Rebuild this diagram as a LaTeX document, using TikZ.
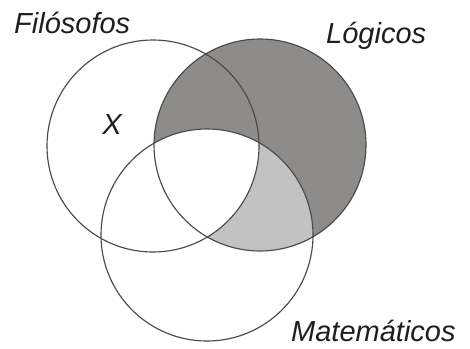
\documentclass[tikz,border=0pt]{standalone}
\usepackage{fontspec}
\setmainfont{Liberation Sans}
\definecolor{darkfill}{HTML}{8E8C8A}
\definecolor{lightfill}{HTML}{C2C2C2}
\definecolor{edge}{HTML}{4A4A4A}
\definecolor{ink}{HTML}{1E1E1E}
\tikzset{
  venn/.style={draw=edge, line width=1.15pt},
  lbl/.style={font=\fontsize{29}{31}\selectfont\itshape, text=ink, inner sep=0pt, anchor=base west}
}
\begin{document}
\begin{tikzpicture}[x=1pt,y=-1pt]
\useasboundingbox (0,0) rectangle (470,348);
\coordinate (cF) at (153,146);
\coordinate (cL) at (260,145);
\coordinate (cM) at (207,235);
\def\rr{106}
% fills
\fill[darkfill] (cL) circle[radius=\rr];
\begin{scope}
  \clip (cL) circle[radius=\rr];
  \fill[lightfill] (cM) circle[radius=\rr];
  \clip (cM) circle[radius=\rr];
  \fill[white] (cF) circle[radius=\rr];
\end{scope}
% outlines
\draw[venn] (cF) circle[radius=\rr];
\draw[venn] (cL) circle[radius=\rr];
\draw[venn] (cM) circle[radius=\rr];
% labels
\node[lbl] (tF) at (14,33) {Filósofos};
\node[lbl] (tL) at (326,43) {Lógicos};
\node[lbl] (tM) at (291,341) {Matemáticos};
\node[lbl, anchor=center] (tX) at (112,125) {X};
\end{tikzpicture}
\end{document}
